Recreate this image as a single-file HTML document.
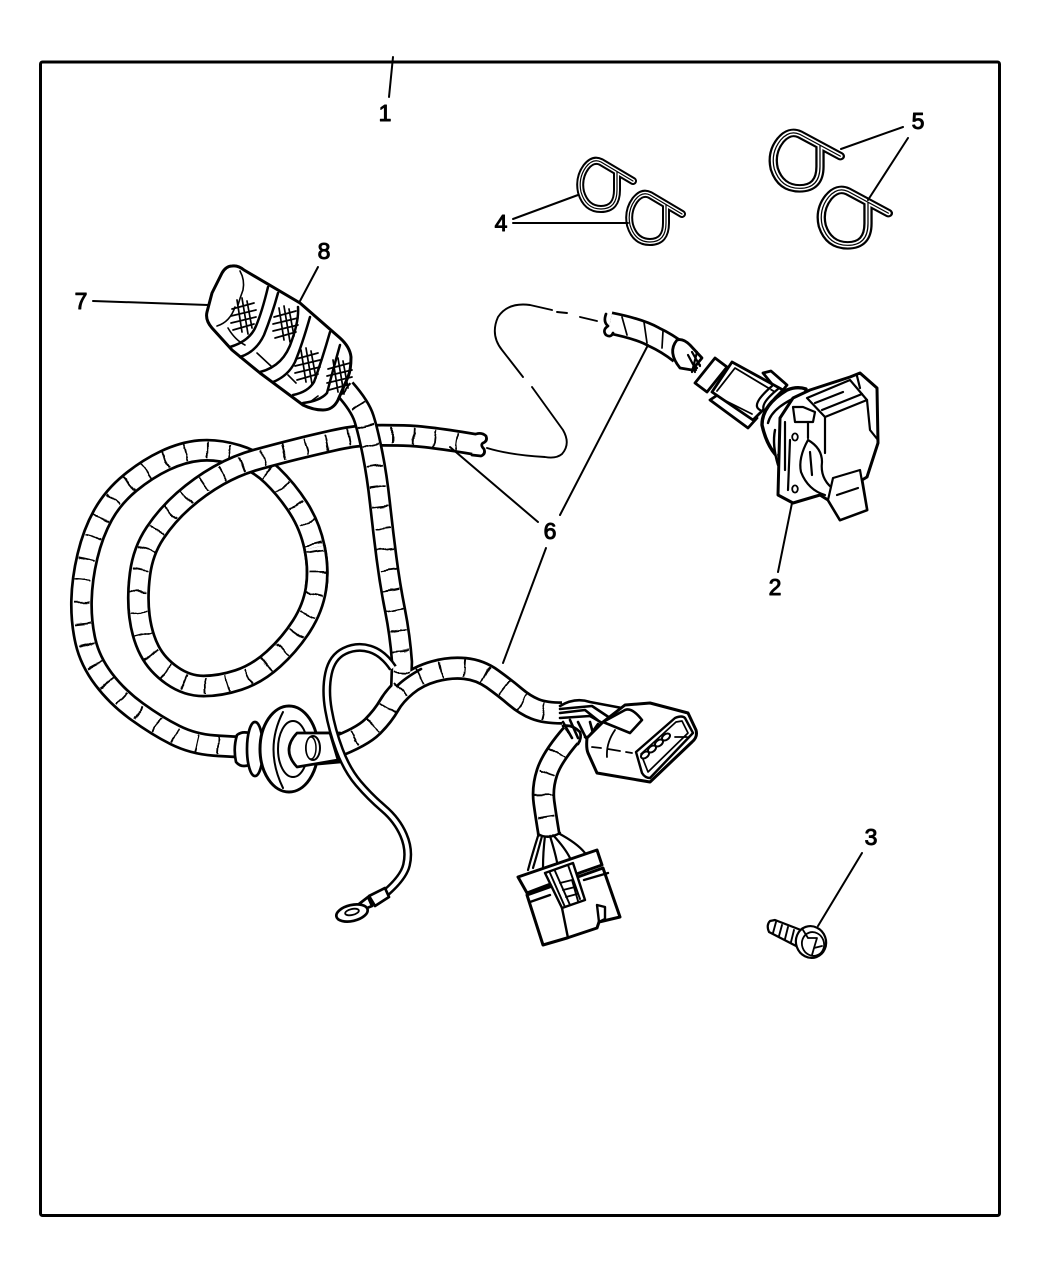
<!DOCTYPE html>
<html><head><meta charset="utf-8"><style>
html,body{margin:0;padding:0;background:#fff}
svg{display:block}
text{font-family:"Liberation Sans",sans-serif;font-size:23px;fill:#000;stroke:#000;stroke-width:1;text-anchor:middle}
</style></head><body>
<svg xmlns="http://www.w3.org/2000/svg" width="1050" height="1275" viewBox="0 0 1050 1275" fill="none" stroke="#000" stroke-width="2.7" stroke-linejoin="round" stroke-linecap="round">
<defs>
<filter id="w" filterUnits="userSpaceOnUse" x="0" y="0" width="1050" height="1275"><feTurbulence type="fractalNoise" baseFrequency=".09" numOctaves="1" seed="4"/><feDisplacementMap in="SourceGraphic" scale="6" xChannelSelector="R" yChannelSelector="G"/></filter>
<path id="tB" d="M316 588.5 Q319 569 314.5 547.5 Q310 526 298.5 508 Q287 490 272 475.5 Q257 461 237 455 Q217 449 200 450.5 Q183 452 165 460.5 Q147 469 130 483 Q113 497 103 515 Q93 533 87.5 556 Q82 579 81.5 600.5 Q81 622 85.5 641.5 Q90 661 103.5 679 Q117 697 137 711.5 Q157 726 175 735 Q193 744 214 745.5 Q235 747 245 747"/>
<path id="tA" d="M479 445 Q427 436 403.5 435.5 Q380 435 366.5 435.5 Q353 436 333 440.5 Q313 445 295 449.5 Q277 454 257 459.5 Q237 465 218.5 475.5 Q200 486 183.5 500.5 Q167 515 155 533 Q143 551 140 574 Q137 597 139.5 616.5 Q142 636 149.5 650.5 Q157 665 172 675.5 Q187 686 203.5 686 Q220 686 238.5 680 Q257 674 273.5 659 Q290 644 301.5 626 Q313 608 316 588.5 Q319 569 314.5 547.5"/>
<path id="tC" d="M345 389 Q360 406 364 418.5 Q368 431 372.5 453.5 Q377 476 380 503.5 Q383 531 386.5 558 Q390 585 395 610 Q400 635 402 662 L401 692"/>
<path id="tD" d="M333 748 Q362 737 372.5 726.5 Q383 716 389 705.5 Q395 695 406.5 685.5 Q418 676 434 671.5 Q450 667 465 668.5 Q480 670 492.5 679 Q505 688 515 696.5 Q525 705 535 709 Q545 713 562 713"/>
<path id="tF" d="M572 734 Q552 757 547 772.5 Q542 788 544 802.5 Q546 817 549 835"/>
<path id="tG" d="M610 323 Q640 329 654 337 Q667 343 680 353"/>
<path id="wr" d="M377 900 Q403 880 406.5 865 Q410 850 403.5 835 Q397 820 383.5 808.5 Q370 797 358.5 783.5 Q347 770 339.5 750 Q332 730 328.5 710 Q325 690 328.5 673.5 Q332 657 344.5 651 Q357 645 370 649 Q383 653 393 668"/>
<path id="cl" d="M632 181 L600 162 Q592 158 585 167 Q577 178 580 192 Q585 209 600 209 Q616 209 616 190 L616 172"/>
<g id="net" stroke-width="1.7"><path d="M-6 -17 L-1 15 M-1 -19 L5 17 M4 -16 L9 11 M-11 -8 L11 -14 M-12 -1 L13 -7 M-12 6 L13 0 M-10 13 L11 7"/></g>
</defs>

<rect x="40.5" y="62" width="959" height="1153.5" rx="2" stroke-width="3"/>

<!-- dashed phantom -->
<g stroke-width="1.9">
<path d="M597 321 L580 317 M567 313 L557 312"/>
<path d="M552 310 L530 305 Q508 302 498 317 Q490 335 502 350 L523 377"/>
<path d="M532 387 L563 430 Q571 444 562 454 Q556 459 545 457 Q510 455 487 448"/>
</g>

<!-- spiral tube -->
<g>
<use href="#tB" stroke-width="23" stroke-linecap="butt"/><use href="#tB" stroke="#fff" stroke-width="17.6" stroke-linecap="butt"/>
<use href="#tB" stroke-width="17" stroke-dasharray="1.8 20" stroke-linecap="butt" filter="url(#w)"/>
<use href="#tA" stroke-width="23" stroke-linecap="butt"/><use href="#tA" stroke="#fff" stroke-width="17.6" stroke-linecap="butt"/>
<use href="#tA" stroke-width="17" stroke-dasharray="1.8 20" stroke-linecap="butt" filter="url(#w)"/>
</g>
<!-- cut end -->
<path d="M476 434 Q482 432 486 436 Q488 441 483 443 Q480 445 484 449 Q486 454 481 456 L472 455" fill="#fff"/>

<!-- stem -->
<path d="M296 733 L340 733 L340 762 L296 766 Z" fill="#fff"/>

<!-- vertical tube + D tube merged -->
<use href="#tC" stroke-width="22.5" stroke-linecap="butt"/>
<use href="#tD" stroke-width="23.5" stroke-linecap="butt"/>
<use href="#tC" stroke="#fff" stroke-width="17.2" stroke-linecap="butt"/>
<use href="#tD" stroke="#fff" stroke-width="18" stroke-linecap="butt"/>
<use href="#tC" stroke-width="16.5" stroke-dasharray="1.8 19" stroke-linecap="butt" filter="url(#w)"/>
<use href="#tD" stroke-width="17.5" stroke-dasharray="1.8 21" stroke-linecap="butt" filter="url(#w)"/>
<path d="M397 686 Q405 678 421 669"/>

<!-- grommet -->
<g fill="#fff">
<path d="M237 735 Q242 731 249 733 L249 765 Q241 768 236 762 Q233 748 237 735 Z"/>
<ellipse cx="255" cy="749" rx="8" ry="27"/>
<ellipse cx="289" cy="749" rx="29" ry="43" stroke-width="3"/>
<path d="M283 712 Q264 749 283 788" stroke-width="2"/>
<ellipse cx="293" cy="749" rx="15" ry="28" stroke-width="2"/>
<path d="M297 733 L330 733 L338 760 L297 767 Q281 750 297 733 Z"/>
<ellipse cx="313" cy="748" rx="7" ry="12" stroke-width="2"/>
<ellipse cx="311" cy="748" rx="5" ry="11" stroke-width="1.5"/>
</g>

<!-- ground wire -->
<use href="#wr" stroke-width="9" stroke-linecap="butt"/><use href="#wr" stroke="#fff" stroke-width="4" stroke-linecap="butt"/>
<!-- terminal -->
<g fill="#fff">
<path d="M369 896 L385 888 L389 897 L375 906 Z"/>
<path d="M368 897 L372 906 L362 910 L359 904 Z"/>
<ellipse cx="352" cy="913" rx="16" ry="8" transform="rotate(-13 352 913)"/>
<ellipse cx="352" cy="912" rx="7" ry="3" transform="rotate(-13 352 912)" stroke-width="1.8"/>
</g>

<!-- handset bag -->
<path d="M232 266 Q238 265 244 270 L300 303 L340 338 Q350 347 351 357 Q351 370 348 377 L338 400 Q333 410 323 410 Q313 410 303 405 L260 373 L232 350 L212 328 Q205 320 207 312 L212 293 L222 273 Q226 266 232 266 Z" fill="#fff" stroke-width="3"/>
<g stroke-width="2.5">
<path d="M268 287 Q262 312 256 326 Q250 341 230 347"/>
<path d="M278 293 Q272 315 264 335 Q256 352 240 357"/>
<path d="M298 307 Q299 320 292 340 Q284 366 260 372"/>
<path d="M310 317 Q302 345 295 362 Q288 376 273 382"/>
<path d="M330 332 Q322 360 314 382 Q308 392 293 395"/>
<path d="M340 345 Q333 370 327 393 Q320 401 303 403"/>
</g>
<g stroke-width="1.6">
<path d="M240 271 Q245 280 243 290 Q240 298 238 305"/>
<path d="M235 307 Q230 322 217 326 M228 328 Q235 340 245 345"/>
<path d="M257 353 L272 367 M288 375 L296 383 M318 396 L310 402"/>
</g>
<use href="#net" x="243" y="317"/><use href="#net" x="285" y="325"/><use href="#net" x="307" y="367"/><use href="#net" x="339" y="377"/>

<!-- lower connector wires -->
<path d="M538 836 Q532 855 528 870 M542 836 Q537 855 533 868 M545 836 Q543 852 543 868 M550 836 Q555 852 557 862 M553 835 Q565 848 570 858 M558 833 Q577 843 585 853" stroke-width="2.2"/>
<use href="#tF" stroke-width="23.5" stroke-linecap="butt"/><use href="#tF" stroke="#fff" stroke-width="18" stroke-linecap="butt"/>
<use href="#tF" stroke-width="17.5" stroke-dasharray="1.8 21" stroke-linecap="butt" filter="url(#w)"/>
<path d="M538 834 Q548 840 560 833" stroke-width="2.4"/>
<path d="M563 726 Q572 724 580 732 Q582 738 578 744" fill="#fff"/>

<!-- lower connector -->
<g fill="#fff" stroke-width="3">
<path d="M527 895 L543 945 L567 938 L597 928 L599 922 L620 917 L603 868 Z"/>
<path d="M518 877 L597 850 L602 865 L582 872 L527 893 Z"/>
<path d="M530 902 L550 895" stroke-width="2.4"/>
<path d="M584 880 L608 873" stroke-width="2.4"/>
<path d="M545 873 L573 863 L585 900 L562 908 Z" stroke-width="2.4"/>
<path d="M550 873 L565 907 M555 871 L570 905 M568 865 L580 899 M560 883 L572 880 L578 901 M563 890 L575 887 M566 897 L577 894" stroke-width="1.9"/>
<path d="M562 908 L568 938 M597 905 L605 907 L605 919 L599 922 Z" stroke-width="2.4"/>
</g>

<!-- wires to upper connector -->
<path d="M560 706 Q575 697 590 702 L622 708 M560 709 L592 706 L610 718 M560 713 L585 710 L600 722 M560 718 L590 716 L604 724 M563 722 L572 738 M570 720 L578 738 M578 722 L586 738 M590 722 L594 737 M598 724 L588 738 M585 737 L598 737" stroke-width="2.6"/>
<g fill="#fff" stroke-width="3">
<path d="M587 738 Q586 748 588 753 L597 773 L638 780 L650 782 L692 742 Q698 737 696 730 L688 713 L650 703 L625 705 L603 722 Z"/>
<path d="M603 722 L625 710 Q632 707 642 720 L630 733 Z" stroke-width="2.6"/>
<path d="M636 752 L675 718 Q682 715 685 718 L693 733 L650 778 Q645 778 642 773 Z" stroke-width="2.4"/>
<path d="M641 754 L648 772 L688 733 L682 721 L676 722 Z" stroke-width="1.7"/>
</g>
<g fill="#fff" stroke-width="2">
<ellipse cx="645" cy="755" rx="4.5" ry="2.8" transform="rotate(-35 645 755)"/>
<ellipse cx="652" cy="749" rx="4.5" ry="2.8" transform="rotate(-35 652 749)"/>
<ellipse cx="659" cy="743" rx="4.5" ry="2.8" transform="rotate(-35 659 743)"/>
<ellipse cx="666" cy="737" rx="4.5" ry="2.8" transform="rotate(-35 666 737)"/>
</g>
<path d="M592 747 L601 748 M608 749 L620 751 M626 752 L632 753 M675 737 L687 737 M615 730 Q606 743 607 757" stroke-width="1.8"/>

<!-- tube G & trailer plug -->
<path d="M678 352 L697 368 M685 350 L700 365 M688 358 L695 372" stroke-width="2.2"/>
<use href="#tG" stroke-width="23.5" stroke-linecap="butt"/><use href="#tG" stroke="#fff" stroke-width="18" stroke-linecap="butt"/>
<path d="M622 317 L627 335 M644 322 L647 343 M663 331 L662 348" stroke-width="1.7"/>
<path d="M606 314 Q603 322 608 326 Q602 330 606 335 Q611 338 613 333" fill="#fff"/>
<path d="M677 340 Q667 352 680 368 L692 370 L702 358 L690 345 Q683 338 677 340 Z" fill="#fff" stroke-width="2.8"/>
<path d="M688 355 L696 370 M692 352 L700 366 M697 352 L692 372" stroke-width="2.2"/>
<g fill="#fff" stroke-width="2.8">
<path d="M763 373 L771 371 L787 385 L780 394 Z"/>
<path d="M695 383 L715 358 L727 367 L707 392 Z"/>
<path d="M710 400 L748 428 L757 418 L722 392 Z"/>
<path d="M712 392 L732 362 L783 390 L753 420 Z"/>
<path d="M717 391 L735 368 L775 392 M720 398 L752 414" stroke-width="1.8"/>
<path d="M760 410 Q750 405 772 386 M766 412 Q757 406 778 389" stroke-width="2.2"/>
<path d="M785 463 Q768 452 762 425 Q762 405 787 390 Q797 386 806 389 L800 470 Z" stroke-width="3.4"/>
<path d="M768 423 Q772 406 806 393 M778 465 Q772 445 775 430" stroke-width="2.4"/>
<path d="M778 495 L780 418 L793 398 L810 390 L850 377 L860 373 L877 388 L878 443 L867 477 L862 480 L867 510 L840 520 L828 500 L820 495 L793 503 Z" stroke-width="3"/>
</g>
<g stroke-width="2.2">
<path d="M785 422 L785 470 M790 440 L788 490"/>
<path d="M807 398 L850 380 L867 400 L825 417 Z" fill="#fff"/>
<path d="M815 403 L843 392 M822 410 L862 394 M857 376 L860 388 M867 400 L870 430 L878 440"/>
<path d="M793 407 L803 407 L815 412 L813 422 L795 422 Z" fill="#fff"/>
<path d="M825 417 L825 453 M808 422 L808 438"/>
<path d="M808 440 Q798 458 801 472 Q808 490 825 495 M808 440 Q822 448 822 462 Q820 478 832 488 M810 452 L812 475"/>
<path d="M833 478 L860 470 L867 510 L840 520 L828 500 Z" fill="#fff"/>
<path d="M837 495 L858 488"/>
</g>
<ellipse cx="795" cy="437" rx="2.8" ry="3.6" stroke-width="1.8"/>
<ellipse cx="795" cy="489" rx="2.8" ry="3.6" stroke-width="1.8"/>

<!-- clips -->
<g transform="translate(1 0)"><use href="#cl" stroke-width="8"/><use href="#cl" stroke="#fff" stroke-width="4"/><use href="#cl" stroke-width="1.2"/></g>
<g transform="translate(50 33)"><use href="#cl" stroke-width="8"/><use href="#cl" stroke="#fff" stroke-width="4"/><use href="#cl" stroke-width="1.2"/></g>
<g transform="translate(773 132) scale(1.27 1.15) translate(-579 -160)"><use href="#cl" stroke-width="7.4"/><use href="#cl" stroke="#fff" stroke-width="3.8"/><use href="#cl" stroke-width="1"/></g>
<g transform="translate(821 189) scale(1.27 1.15) translate(-579 -160)"><use href="#cl" stroke-width="7.4"/><use href="#cl" stroke="#fff" stroke-width="3.8"/><use href="#cl" stroke-width="1"/></g>

<!-- bolt -->
<g fill="#fff" stroke-width="2.2">
<path d="M770 921 Q766 925 769 932 L800 948 L806 932 L775 920 Z"/>
<path d="M776 922 L773 933 M782 925 L779 936 M788 927 L785 939 M794 930 L791 942" stroke-width="1.9"/>
<ellipse cx="811" cy="942" rx="15" ry="16" transform="rotate(-20 811 942)"/>
<ellipse cx="813" cy="944" rx="11" ry="12" transform="rotate(-20 813 944)" stroke-width="1.8"/>
<path d="M808 938 L817 938 L814 948 M803 930 L808 938 M822 946 L814 948 M812 955 L814 948" stroke-width="1.8"/>
</g>

<!-- leaders -->
<g stroke-width="2">
<path d="M393 57 L389 97"/>
<path d="M792 503 L778 572"/>
<path d="M862 853 L818 926"/>
<path d="M513 219 L578 195 M513 223 L628 223"/>
<path d="M903 127 L841 149 M908 138 L868 200"/>
<path d="M538 522 L450 447 M560 515 L648 345 M546 548 L503 663"/>
<path d="M93 301 L208 305"/>
<path d="M318 267 L300 301"/>
</g>

<!-- labels -->
<text x="385" y="121">1</text>
<text x="775" y="595">2</text>
<text x="871" y="845">3</text>
<text x="501" y="231">4</text>
<text x="918" y="129">5</text>
<text x="550" y="539">6</text>
<text x="81" y="309">7</text>
<text x="324" y="259">8</text>
</svg>
</body></html>
